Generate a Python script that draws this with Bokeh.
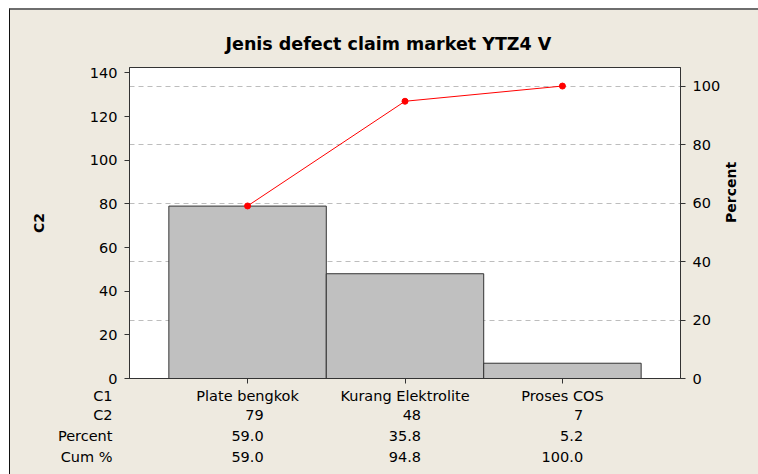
import math
from bokeh.plotting import figure
from bokeh.layouts import column
from bokeh.models import (Range1d, LinearAxis, FixedTicker, Grid, Label, Title,
                          CustomLabelingPolicy)
from bokeh.embed import file_html
from bokeh.resources import INLINE

# ---- data ----
categories = ["Plate bengkok", "Kurang Elektrolite", "Proses COS"]
counts = [79, 48, 7]
percents = [59.0, 35.8, 5.2]
cum_percents = [59.0, 94.8, 100.0]
row_labels = ["C1", "C2", "Percent", "Cum %"]
left_ticks = [0, 20, 40, 60, 80, 100, 120, 140]
right_ticks = [0, 20, 40, 60, 80, 100]
grid_ticks = [20, 40, 60, 80, 100]
title_text = "Jenis defect claim market YTZ4 V"

BG = "#EEEAE0"
FONT = "DejaVu Sans"
FS = "14.5px"
DARK = "#333333"

total = sum(counts)
ymax = 142.5
xs = list(range(len(categories)))
X_RANGE = (-0.75, 2.75)

W = 748
BL, BR, BT, BB = 119, 78, 57, 8
FRAME_H = 312
MAIN_H = BT + FRAME_H + BB
TABLE_H = 474 - 10 - MAIN_H

p = figure(width=W, height=MAIN_H, output_backend="svg", toolbar_location=None,
           x_range=Range1d(*X_RANGE), y_range=Range1d(0, ymax),
           min_border_left=BL, min_border_right=BR, min_border_top=BT,
           min_border_bottom=BB, background_fill_color="white",
           border_fill_color=BG, outline_line_color=DARK, outline_line_width=1)
p.extra_y_ranges = {"pct": Range1d(0, ymax / total * 100)}

p.title = Title(text=title_text, align="left", offset=96, text_font=FONT,
                text_font_size="17.5px", text_font_style="bold",
                text_color="black", standoff=28)

p.xgrid.visible = False
p.ygrid.visible = False
p.add_layout(Grid(dimension=1, ticker=FixedTicker(ticks=grid_ticks),
                  y_range_name="pct", grid_line_color="#BDBDBD",
                  grid_line_dash="5 4", grid_line_width=1))

p.vbar(x=xs, top=counts, bottom=0, width=1.0, fill_color="#C0C0C0",
       line_color=DARK, line_width=1)
p.line(xs, cum_percents, y_range_name="pct", line_color="#FF0000", line_width=1)
p.scatter(xs, cum_percents, y_range_name="pct", size=6, fill_color="#FF0000",
          line_color="#FF0000")

def style_axis(ax):
    ax.major_label_text_font = FONT
    ax.major_label_text_font_size = FS
    ax.major_label_text_color = "black"
    ax.axis_line_color = DARK
    ax.major_tick_line_color = DARK
    ax.major_tick_in = 0
    ax.major_tick_out = 5
    ax.minor_tick_line_color = None
    ax.axis_label_text_font = FONT
    ax.axis_label_text_font_size = "14px"
    ax.axis_label_text_font_style = "bold"
    ax.axis_label_text_color = "black"

# bottom axis: tick marks only; the category names are drawn in the table below
xa = p.xaxis[0]
style_axis(xa)
xa.ticker = FixedTicker(ticks=xs)
xa.major_label_policy = CustomLabelingPolicy(
    code="const all = [...indices]; for (const i of all) indices.unset(i); return indices")
xa.major_label_text_font_size = "1px"
xa.major_label_standoff = 0

ya = p.yaxis[0]
style_axis(ya)
ya.ticker = FixedTicker(ticks=left_ticks)
ya.axis_label = "C2"
ya.axis_label_standoff = 40
ya.major_label_standoff = 7

ra = LinearAxis(y_range_name="pct", ticker=FixedTicker(ticks=right_ticks),
                axis_label="Percent")
style_axis(ra)
ra.major_label_standoff = 7
ra.axis_label_standoff = 8
ra.axis_label_orientation = math.pi / 2
p.add_layout(ra, "right")

# ---- table below the chart (frame aligned with the chart frame) ----
# vertical centre of each table row, in pixels above the bottom of the strip
row_pos = [79, 60, 38.5, 18]

t = figure(width=W, height=TABLE_H, output_backend="svg", toolbar_location=None,
           x_range=Range1d(*X_RANGE), y_range=Range1d(0, TABLE_H),
           min_border_left=BL, min_border_right=BR, min_border_top=0,
           min_border_bottom=0, background_fill_color=BG, border_fill_color=BG,
           outline_line_color=None, x_axis_type=None, y_axis_type=None)
t.xgrid.visible = False
t.ygrid.visible = False

row_axis = LinearAxis(ticker=FixedTicker(ticks=row_pos),
                      major_label_overrides={y: lab for y, lab in zip(row_pos, row_labels)})
row_axis.axis_line_color = None
row_axis.major_tick_line_color = None
row_axis.minor_tick_line_color = None
row_axis.major_tick_in = 0
row_axis.major_tick_out = 0
row_axis.major_label_text_font = FONT
row_axis.major_label_text_font_size = FS
row_axis.major_label_text_color = "black"
row_axis.major_label_standoff = 17
t.add_layout(row_axis, "left")

rows = [[str(c) for c in counts],
        [f"{v:.1f}" for v in percents],
        [f"{v:.1f}" for v in cum_percents]]

def est_width(s):
    return sum(4.6 if ch == "." else 9.2 for ch in s)

for i, cat in enumerate(categories):
    t.add_layout(Label(x=xs[i], y=row_pos[0], text=cat, text_align="center",
                       text_baseline="middle", text_font=FONT, text_font_size=FS,
                       text_color="black"))
    col = [r[i] for r in rows]
    half = max(est_width(s) for s in col) / 2
    for r, y in zip(col, row_pos[1:]):
        t.add_layout(Label(x=xs[i], y=y, x_offset=half, text=r,
                           text_align="right", text_baseline="middle",
                           text_font=FONT, text_font_size=FS, text_color="black"))

layout = column(p, t, spacing=0, margin=(8, 0, 0, 9),
                styles={"background-color": BG,
                        "border-top": "2px solid #6E6E6E",
                        "border-left": "1px solid #111111"})
open("out.html", "w").write(file_html(layout, INLINE))
